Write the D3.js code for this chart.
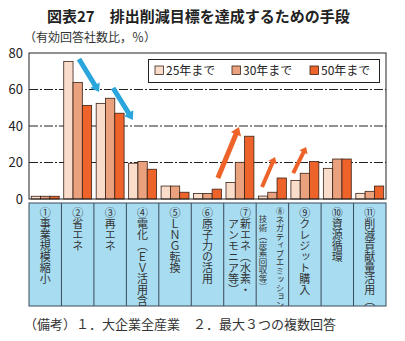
<!DOCTYPE html>
<html>
<head>
<meta charset="utf-8">
<script src="https://cdn.jsdelivr.net/npm/d3@7"></script>
<style>
  body { margin: 0; background: #fff; }
  text { font-family: "Noto Sans CJK JP", "Liberation Sans", sans-serif; }
</style>
</head>
<body>
<script>
// * Data
const categories = [
	"①事業規模縮小",
	"②省エネ",
	"③再エネ",
	"④電化（ＥＶ活用含む）",
	"⑤ＬＮＧ転換",
	"⑥原子力の活用",
	"⑦新エネ（水素・|アンモニア等）",
	"⑧ネガティブエミッション|技術（炭素回収等）",
	"⑨クレジット購入",
	"⑩資源循環",
	"⑪削減貢献量活用（※）",
];
const seriesNames = ["25年まで", "30年まで", "50年まで"];
const values25 = [1.5, 75.4, 52.4, 19.6, 7.1, 3, 9.1, 1.6, 10.2, 16.8, 3.1];
const values30 = [1.5, 63.9, 55.2, 20.6, 7.1, 3, 20.1, 3.7, 14.1, 21.9, 4.2];
const values50 = [1.5, 51.3, 47, 16.3, 3.7, 5.4, 34.4, 11.5, 20.6, 21.9, 7.1];
const yTicks = [0, 20, 40, 60, 80];
// arrows in data units: [category position, value]
const blueArrows = [
	[[1.54, 76.7], [2.16, 58.6]],
	[[2.59, 60.8], [3.2, 43.3]],
];
const orangeArrows = [
	[[5.82, 11.5], [6.47, 39.5]],
	[[7.18, 6.6], [7.58, 23]],
	[[8.14, 14.2], [8.54, 28.5]],
];

const title = "図表27　排出削減目標を達成するための手段";
const unitLabel = "（有効回答社数比，％）";
const note = "（備考）１．大企業全産業　２．最大３つの複数回答";

// * Size & Margins
const width = 405;
const height = 341;
const margin = { left: 29, right: 19, top: 53, bottom: 142 };
const plotW = width - margin.left - margin.right;
const plotH = height - margin.top - margin.bottom;

const colors = ["#fadccb", "#e9a27d", "#ee6329"];

const svg = d3
	.select("body")
	.append("svg")
	.attr("width", width)
	.attr("height", height);

// * Scales
const x = d3
	.scaleBand()
	.domain(d3.range(categories.length))
	.range([margin.left, margin.left + plotW])
	.paddingInner(0.14)
	.paddingOuter(0.07);
const x1 = d3.scaleBand().domain(d3.range(3)).range([0, x.bandwidth()]);
const xu = d3
	.scaleLinear()
	.domain([0, categories.length])
	.range([margin.left, margin.left + plotW]);
const y = d3
	.scaleLinear()
	.domain([0, 80])
	.range([margin.top + plotH, margin.top]);

// * Titles
svg.append("text")
	.attr("x", 47)
	.attr("y", 22)
	.attr("font-size", 15)
	.attr("font-weight", "bold")
	.attr("fill", "#222")
	.text(title);
svg.append("text")
	.attr("x", 24)
	.attr("y", 42)
	.attr("font-size", 12)
	.attr("fill", "#333")
	.text(unitLabel);

// * Grid lines
svg.append("g")
	.selectAll("line")
	.data(yTicks.filter((t) => t > 0 && t < 80))
	.join("line")
	.attr("x1", margin.left)
	.attr("x2", margin.left + plotW)
	.attr("y1", (d) => y(d))
	.attr("y2", (d) => y(d))
	.attr("stroke", "#222")
	.attr("stroke-width", 1)
	.attr("stroke-dasharray", "9,2,2,2");

// * Y axis
const yAxis = svg
	.append("g")
	.attr("transform", `translate(${margin.left},0)`)
	.call(d3.axisLeft(y).tickValues(yTicks).tickSize(0).tickPadding(6));
yAxis.select(".domain").remove();
yAxis.selectAll("text")
	.attr("font-family", "Liberation Sans, Arial, sans-serif")
	.attr("font-size", 13)
	.attr("fill", "#222");

// * Bars
const allSeries = [values25, values30, values50];
const groups = svg
	.append("g")
	.selectAll("g")
	.data(categories.map((c, i) => i))
	.join("g")
	.attr("transform", (i) => `translate(${x(i)},0)`);
groups
	.selectAll("rect")
	.data((i) => allSeries.map((s, k) => ({ k, v: s[i] })))
	.join("rect")
	.attr("x", (d) => x1(d.k))
	.attr("y", (d) => y(d.v))
	.attr("width", x1.bandwidth())
	.attr("height", (d) => y(0) - y(d.v))
	.attr("fill", (d) => colors[d.k])
	.attr("stroke", "#3a2218")
	.attr("stroke-width", 0.8);

// * Arrows
function arrowPath(p0, p1, shaft, headW, headL) {
	const x0 = xu(p0[0]), y0 = y(p0[1]);
	const xe = xu(p1[0]), ye = y(p1[1]);
	const dx = xe - x0, dy = ye - y0;
	const len = Math.hypot(dx, dy);
	const ux = dx / len, uy = dy / len;
	const nx = -uy, ny = ux;
	const bx = xe - ux * headL, by = ye - uy * headL;
	const pts = [
		[x0 + nx * shaft / 2, y0 + ny * shaft / 2],
		[bx + nx * shaft / 2, by + ny * shaft / 2],
		[bx + nx * headW / 2, by + ny * headW / 2],
		[xe, ye],
		[bx - nx * headW / 2, by - ny * headW / 2],
		[bx - nx * shaft / 2, by - ny * shaft / 2],
		[x0 - nx * shaft / 2, y0 - ny * shaft / 2],
	];
	return "M" + pts.map((p) => p.join(",")).join("L") + "Z";
}
svg.append("g")
	.selectAll("path")
	.data(blueArrows)
	.join("path")
	.attr("d", (d) => arrowPath(d[0], d[1], 5, 11, 8))
	.attr("fill", "#2ba6dd");
svg.append("g")
	.selectAll("path")
	.data(orangeArrows)
	.join("path")
	.attr("d", (d, i) => arrowPath(d[0], d[1], i === 0 ? 5 : 4, i === 0 ? 11 : 9, i === 0 ? 8 : 6))
	.attr("fill", "#ee6329");

// * Plot frame
svg.append("rect")
	.attr("x", margin.left)
	.attr("y", margin.top)
	.attr("width", plotW)
	.attr("height", plotH)
	.attr("fill", "none")
	.attr("stroke", "#222")
	.attr("stroke-width", 1);

// * Legend
const legend = svg.append("g");
legend.append("rect")
	.attr("x", 148.5)
	.attr("y", 59.5)
	.attr("width", 231)
	.attr("height", 23)
	.attr("fill", "#fff")
	.attr("stroke", "#222");
const legendX = [155, 232, 310];
const legendItems = legend
	.selectAll("g.item")
	.data(seriesNames)
	.join("g")
	.attr("class", "item")
	.attr("transform", (d, i) => `translate(${legendX[i]},66)`);
legendItems
	.append("rect")
	.attr("width", 8.5)
	.attr("height", 8.5)
	.attr("fill", (d, i) => colors[i])
	.attr("stroke", "#3a2218")
	.attr("stroke-width", 0.8);
legendItems
	.append("text")
	.attr("x", 11)
	.attr("y", 9)
	.attr("font-size", 12)
	.attr("fill", "#222")
	.text((d) => d);

// * Category table
const tableTop = 203;
const tableBottom = 306;
svg.append("clipPath")
	.attr("id", "tableClip")
	.append("rect")
	.attr("x", margin.left)
	.attr("y", tableTop)
	.attr("width", plotW)
	.attr("height", tableBottom - tableTop);
svg.append("rect")
	.attr("x", margin.left)
	.attr("y", tableTop)
	.attr("width", plotW)
	.attr("height", tableBottom - tableTop)
	.attr("fill", "#a8dcf1")
	.attr("stroke", "#3a4a5a")
	.attr("stroke-width", 1);
svg.append("g")
	.selectAll("line")
	.data(d3.range(1, categories.length))
	.join("line")
	.attr("x1", (i) => x(i) - x.step() * x.paddingInner() / 2)
	.attr("x2", (i) => x(i) - x.step() * x.paddingInner() / 2)
	.attr("y1", tableTop)
	.attr("y2", tableBottom)
	.attr("stroke", "#3a4a5a")
	.attr("stroke-width", 1);

const labels = svg.append("g").attr("clip-path", "url(#tableClip)");
categories.forEach((c, i) => {
	const cx = x(i) + x.bandwidth() / 2;
	const parts = c.split("|");
	const small = i === 7;
	const fs = small ? 8.5 : 11;
	parts.forEach((p, j) => {
		const off = parts.length === 1 ? 0 : (j === 0 ? 5.5 : -6.5);
		const ty = j === 0 ? 207 : (small ? 215 : 207 + fs * 1.05);
		labels.append("text")
			.attr("x", cx + off + (small && j === 0 ? 2 : 0) + (small && j === 1 ? -3 : 0))
			.attr("y", ty)
			.attr("font-size", fs)
			.attr("fill", "#333")
			.style("writing-mode", "vertical-rl")
			.style("text-orientation", "upright")
			.text(p);
	});
});

// * Note
svg.append("text")
	.attr("x", 24)
	.attr("y", 329)
	.attr("font-size", 13)
	.attr("fill", "#333")
	.text(note);
</script>
</body>
</html>
